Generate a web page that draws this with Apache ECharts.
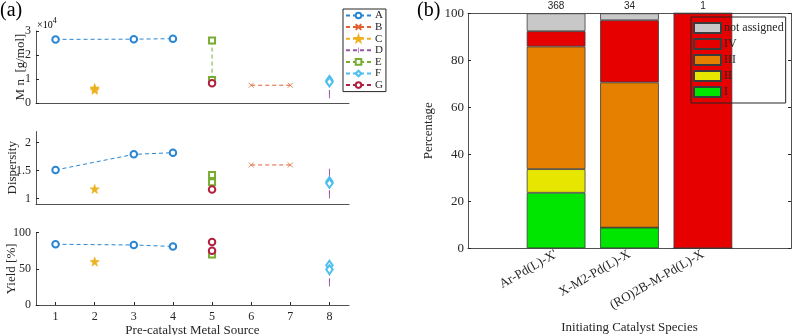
<!DOCTYPE html>
<html>
<head>
<meta charset="utf-8">
<script src="https://cdn.jsdelivr.net/npm/echarts@6.0.0/dist/echarts.min.js"></script>
<style>
html, body { margin: 0; padding: 0; background: #fff; }
#chart { width: 793px; height: 335px; }
</style>
</head>
<body>
<div id="chart"></div>
<script>
// (a) values, x = pre-catalyst metal source
var xA = [1, 3, 4];
var mnA = [26500, 26600, 26800];
var dispA = [1.51, 1.79, 1.82];
var yieldA = [84, 83, 81];

var xB = [6, 7];
var mnB = [7400, 7400];
var dispB = [1.60, 1.60];

var xC = 2;
var mnC = [5500, 6200];
var dispC = [1.17];
var yieldC = [60];

var xD = 8;
var mnD = [3600, 8800];
var dispD = [1.07, 1.46];
var yieldD = [31, 48];

var xE = 5;
var mnE = [26000, 9600];
var dispE = [1.42, 1.29];
var yieldE = [70];

var xF = 8;
var mnF = [9400, 8800];
var dispF = [1.30, 1.27];
var yieldF = [55, 49];

var xG = 5;
var mnG = [8200];
var dispG = [1.16];
var yieldG = [87, 75];

var sourceTicks = [1, 2, 3, 4, 5, 6, 7, 8];

// (b) percentage of each class per initiating catalyst species
var species = ["Ar-Pd(L)-X'", 'X-M2-Pd(L)-X', '(RO)2B-M-Pd(L)-X'];
var counts = [368, 34, 1];
var pctI = [23.64, 8.82, 0];
var pctII = [10.05, 0, 0];
var pctIII = [52.17, 61.76, 0];
var pctIV = [6.52, 26.47, 100];
var pctNA = [7.61, 2.94, 0];

var FONT = '"Liberation Serif", "Times New Roman", serif';
var AXIS = '#262626';
var STAR = 'path://M50,0L61,35L98,35L68,57L79,91L50,70L21,91L32,57L2,35L39,35Z';
// thin vertical tick inside a square box, so it keeps its shape in the legend too
var VTICK = 'path://M4.4,0h1.2v10h-1.2z M0,5h0.01v0.01h-0.01z M9.99,5h0.01v0.01h-0.01z';

var markers = {
	A: { color: '#2A86D2', symbol: 'emptyCircle', size: 6.5 },
	B: { color: '#E06030', symbol: 'path://M0,0L10,10M10,0L0,10', size: 5 },
	C: { color: '#EDB120', symbol: STAR, size: 9 },
	D: { color: '#9A55AA', symbol: VTICK, size: 8 },
	E: { color: '#77AC30', symbol: 'emptyRect', size: 6 },
	F: { color: '#4DBEEE', symbol: 'emptyDiamond', size: [6.5, 9] },
	G: { color: '#B02040', symbol: 'emptyCircle', size: 6.5 }
};

function pairs(xs, ys) {
	return ys.map(function(y, i) {
		return [Array.isArray(xs) ? xs[i] : xs, y];
	});
}

function lineSeries(name, gi, data) {
	var m = markers[name];
	return {
		name: name,
		type: 'line',
		xAxisIndex: gi,
		yAxisIndex: gi,
		data: data,
		symbol: m.symbol,
		symbolSize: m.size,
		showSymbol: true,
		lineStyle: { color: m.color, width: 1, type: [4, 3] },
		itemStyle: { color: m.color, borderColor: m.color, borderWidth: name === 'D' ? 0 : 0.75 },
		emphasis: { disabled: true }
	};
}

function barSeries(name, vals, color) {
	return {
		name: name,
		type: 'bar',
		xAxisIndex: 5,
		yAxisIndex: 5,
		stack: 'pct',
		barWidth: '80%',
		data: vals,
		itemStyle: { color: color, borderColor: '#3c3c3c', borderWidth: 0.8 },
		emphasis: { disabled: true }
	};
}

function axisLine() {
	return { show: true, onZero: false, lineStyle: { color: AXIS, width: 0.8 } };
}

function plainX(gi) {
	return {
		type: 'value', gridIndex: gi, min: 0.5, max: 8.5,
		axisLine: axisLine(), axisTick: { show: false }, axisLabel: { show: false },
		splitLine: { show: false }
	};
}

function leftY(gi, extra) {
	var ax = {
		type: 'value', gridIndex: gi,
		axisLine: axisLine(),
		axisTick: { show: true, inside: true, length: 3, lineStyle: { color: AXIS } },
		axisLabel: { color: '#262626', fontFamily: FONT, fontSize: 12, margin: 5 },
		splitLine: { show: false },
		nameLocation: 'middle', nameRotate: 90, nameMoveOverlap: false,
		nameTextStyle: { color: '#262626', fontFamily: FONT, fontSize: 13 }
	};
	for (var k in extra) ax[k] = extra[k];
	return ax;
}

function box(left, top, width, height) {
	return { left: left, top: top, width: width, height: height, outerBoundsMode: 'none', containLabel: false };
}

var chart = echarts.init(document.getElementById('chart'));

var option = {
	animation: false,
	backgroundColor: '#fff',
	grid: [
		box(36, 31, 313, 72),
		box(36, 131.5, 313, 72.5),
		box(36, 232.7, 313, 72.3),
		box(468, 13.3, 323, 235),
		// bars only: categories 1..3 sit inside the -0.2..4.2 box
		box(519.4, 13.3, 220.2, 235)
	],
	xAxis: [
		plainX(0),
		plainX(1),
		{
			type: 'value', gridIndex: 2, min: 0.5, max: 8.5,
			axisLine: axisLine(),
			axisTick: { show: true, inside: true, length: 3, customValues: sourceTicks, lineStyle: { color: AXIS } },
			axisLabel: { customValues: sourceTicks, color: '#262626', fontFamily: FONT, fontSize: 12, margin: 6 },
			splitLine: { show: false },
			name: 'Pre-catalyst Metal Source', nameLocation: 'middle', nameGap: 17,
			nameTextStyle: { color: '#262626', fontFamily: FONT, fontSize: 13 }
		},
		{
			type: 'value', gridIndex: 3, min: -0.2, max: 4.2,
			axisLine: axisLine(),
			axisTick: { show: true, inside: true, length: 3, customValues: [1, 2, 3], lineStyle: { color: AXIS } },
			axisLabel: {
				customValues: [1, 2, 3], rotate: 30, margin: 5,
				color: '#262626', fontFamily: FONT, fontSize: 13,
				formatter: function(v) { return species[Math.round(v) - 1]; }
			},
			splitLine: { show: false },
			name: 'Initiating Catalyst Species', nameLocation: 'middle', nameGap: 73,
			nameTextStyle: { color: '#262626', fontFamily: FONT, fontSize: 13 }
		},
		{
			type: 'value', gridIndex: 3, position: 'top', min: -0.2, max: 4.2,
			axisLine: axisLine(),
			axisTick: { show: true, inside: true, length: 3, customValues: [1, 2, 3], lineStyle: { color: AXIS } },
			axisLabel: {
				customValues: [1, 2, 3], margin: 2,
				color: '#262626', fontFamily: '"Liberation Sans", Arial, sans-serif', fontSize: 10,
				formatter: function(v) { return counts[Math.round(v) - 1]; }
			},
			splitLine: { show: false }
		},
		{
			type: 'category', gridIndex: 4, data: species, show: false
		}
	],
	yAxis: [
		leftY(0, {
			min: 0, max: 30000, interval: 10000,
			name: 'M n  [g/mol]', nameGap: 9,
			axisLabel: { color: '#262626', fontFamily: FONT, fontSize: 12, margin: 5,
				formatter: function(v) { return v / 10000; } }
		}),
		leftY(1, {
			min: 0.9, max: 2.2,
			name: 'Dispersity', nameGap: 17,
			axisTick: { show: true, inside: true, length: 3, customValues: [1, 1.5, 2], lineStyle: { color: AXIS } },
			axisLabel: { customValues: [1, 1.5, 2], color: '#262626', fontFamily: FONT, fontSize: 12, margin: 5 }
		}),
		leftY(2, {
			min: 0, max: 100, interval: 50,
			name: 'Yield [%]', nameGap: 18
		}),
		leftY(3, {
			min: 0, max: 100, interval: 20,
			name: 'Percentage', nameGap: 33,
			axisLabel: { color: '#262626', fontFamily: FONT, fontSize: 13, margin: 4 }
		}),
		{
			type: 'value', gridIndex: 3, position: 'right', min: 0, max: 100, interval: 20,
			axisLine: axisLine(),
			axisTick: { show: true, inside: true, length: 3, lineStyle: { color: AXIS } },
			axisLabel: { show: false },
			splitLine: { show: false }
		},
		{
			type: 'value', gridIndex: 4, min: 0, max: 100, show: false
		}
	],
	legend: [
		{
			data: ['A', 'B', 'C', 'D', 'E', 'F', 'G'],
			orient: 'vertical', left: 343, top: 9,
			itemWidth: 25, itemHeight: 7, itemGap: 0.6,
			padding: [1, 3, 1, 2],
			borderColor: '#262626', borderWidth: 1,
			textStyle: { fontFamily: FONT, fontSize: 11, lineHeight: 11, color: '#262626', padding: [0, 0, 0, -1] },
			selectedMode: false
		},
		{
			data: ['not assigned', 'IV', 'III', 'II', 'I'],
			orient: 'vertical', left: 691, top: 17,
			icon: 'rect',
			itemWidth: 27, itemHeight: 10, itemGap: 4,
			padding: [5, 2, 5, 2],
			borderColor: '#262626', borderWidth: 1,
			textStyle: { fontFamily: FONT, fontSize: 12, lineHeight: 10, color: '#262626', padding: [0, 0, 0, -2] },
			selectedMode: false
		}
	],
	graphic: [
		{ type: 'text', left: 0, top: 1, style: { text: '(a)', font: '20px ' + FONT, fill: '#000' } },
		{ type: 'text', left: 417, top: 1, style: { text: '(b)', font: '20px ' + FONT, fill: '#000' } },
		{ type: 'text', left: 37, top: 17, style: {
			text: '{a|×10}{b|4}',
			rich: {
				a: { fontFamily: FONT, fontSize: 10, color: '#262626', padding: [4, 0, 0, 0] },
				b: { fontFamily: FONT, fontSize: 8, color: '#262626', padding: [0, 0, 4, 0] }
			}
		} }
	],
	series: [
		lineSeries('A', 0, pairs(xA, mnA)),
		lineSeries('B', 0, pairs(xB, mnB)),
		lineSeries('C', 0, pairs(xC, mnC)),
		lineSeries('D', 0, pairs(xD, mnD)),
		lineSeries('E', 0, pairs(xE, mnE)),
		lineSeries('F', 0, pairs(xF, mnF)),
		lineSeries('G', 0, pairs(xG, mnG)),

		lineSeries('A', 1, pairs(xA, dispA)),
		lineSeries('B', 1, pairs(xB, dispB)),
		lineSeries('C', 1, pairs(xC, dispC)),
		lineSeries('D', 1, pairs(xD, dispD)),
		lineSeries('E', 1, pairs(xE, dispE)),
		lineSeries('F', 1, pairs(xF, dispF)),
		lineSeries('G', 1, pairs(xG, dispG)),

		lineSeries('A', 2, pairs(xA, yieldA)),
		lineSeries('C', 2, pairs(xC, yieldC)),
		lineSeries('D', 2, pairs(xD, yieldD)),
		lineSeries('E', 2, pairs(xE, yieldE)),
		lineSeries('F', 2, pairs(xF, yieldF)),
		lineSeries('G', 2, pairs(xG, yieldG)),

		barSeries('I', pctI, '#00E600'),
		barSeries('II', pctII, '#E6E600'),
		barSeries('III', pctIII, '#E68000'),
		barSeries('IV', pctIV, '#E60000'),
		barSeries('not assigned', pctNA, '#C8C8C8')
	]
};

chart.setOption(option);
</script>
</body>
</html>
